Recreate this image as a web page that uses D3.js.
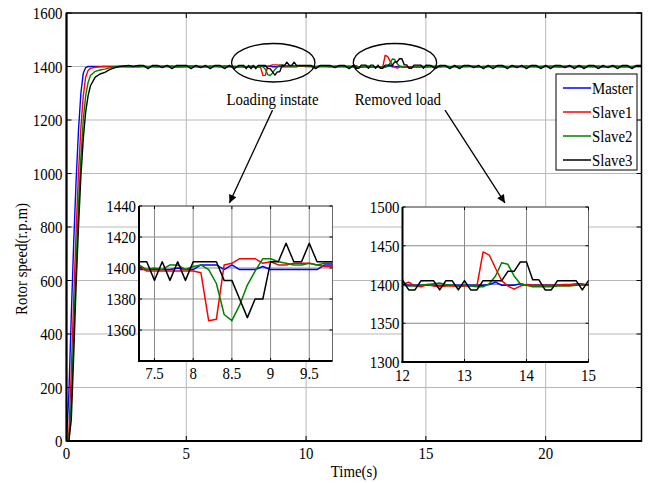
<!DOCTYPE html>
<html><head><meta charset="utf-8">
<script src="https://cdn.jsdelivr.net/npm/d3@7"></script>
<style>
body{margin:0;background:#fff}
svg{display:block}
text{font-family:"Liberation Serif","Times New Roman",serif;fill:#000}
</style>
</head><body>
<svg id="chart" width="649" height="483"></svg>
<script>
// ---------------- DATA ----------------
const seriesNames = ["Master", "Slave1", "Slave2", "Slave3"];
const seriesColors = ["#0000ff", "#ff0000", "#008000", "#000000"];

// main axis ticks
const mainXTicks = [0, 5, 10, 15, 20];
const mainYTicks = [0, 200, 400, 600, 800, 1000, 1200, 1400, 1600];
// inset ticks
const inset1XTicks = [7.5, 8, 8.5, 9, 9.5];
const inset1YTicks = [1360, 1380, 1400, 1420, 1440];
const inset2XTicks = [12, 13, 14, 15];
const inset2YTicks = [1300, 1350, 1400, 1450, 1500];

// start-up (sample times)
const tStart = [0, 0.1, 0.2, 0.3, 0.4, 0.5, 0.6, 0.7, 0.8, 0.9, 1.0, 1.2, 1.4, 1.6, 1.8, 2.0, 2.2, 2.4];
const masterStart = [0, 180, 470, 740, 970, 1160, 1300, 1375, 1396, 1400, 1400, 1400, 1400, 1400, 1400, 1400, 1400, 1400];
const slave1Start = [0, 30, 260, 530, 780, 1000, 1170, 1290, 1360, 1385, 1393, 1397, 1399, 1400, 1400, 1400, 1400, 1400];
const slave2Start = [0, 0, 150, 410, 660, 880, 1060, 1200, 1290, 1340, 1366, 1382, 1387, 1390, 1395, 1399, 1400, 1400];
const slave3Start = [0, 0, 80, 320, 580, 800, 990, 1130, 1230, 1290, 1328, 1360, 1372, 1378, 1388, 1395, 1400, 1402];

// steady segment A: 2.6 .. 7.2 s, every 0.2 s
const segAStart = 2.6, segAStep = 0.2;
const masterA = [1400,1400,1401,1400,1399,1400,1400,1401,1400,1400,1399,1400,1400,1400,1401,1400,1400,1399,1400,1400,1401,1400,1400,1399];
const slave1A = [1399,1400,1398,1401,1400,1399,1398,1400,1401,1399,1398,1400,1399,1401,1400,1398,1399,1400,1401,1399,1398,1400,1399,1398];
const slave2A = [1401,1400,1402,1401,1399,1401,1402,1400,1401,1402,1400,1399,1401,1402,1400,1401,1399,1402,1401,1400,1402,1401,1400,1401];
const slave3A = [1404,1400,1404,1404,1392,1404,1404,1396,1404,1392,1404,1404,1404,1392,1404,1396,1404,1392,1404,1404,1392,1404,1392,1404];

// loading instant: 7.3 .. 9.8 s, every 0.1 s
const segLStart = 7.3, segLStep = 0.1;
const masterL = [1399,1399,1399,1399,1399,1400,1399,1399,1402,1402,1402,1399,1402,1399,1399,1399,1401,1399,1399,1399,1399,1399,1399,1399,1402,1402];
const slave1L = [1401,1398,1398,1398,1398,1398,1398,1398,1397,1366,1367,1402,1403,1406,1406,1406,1403,1404,1402,1402,1403,1403,1403,1402,1401,1401];
const slave2L = [1402,1399,1400,1399,1402,1402,1399,1401,1402,1399,1390,1370,1366,1376,1389,1398,1406,1406,1404,1403,1402,1402,1403,1402,1403,1403];
const slave3L = [1404,1404,1392,1404,1392,1404,1392,1404,1404,1404,1404,1392,1392,1380,1368,1380,1380,1404,1404,1416,1404,1404,1416,1404,1404,1404];

// steady segment B: 10.0 .. 11.8 s, every 0.2 s
const segBStart = 10.0, segBStep = 0.2;
const masterB = [1400,1400,1399,1400,1401,1400,1400,1399,1400,1400];
const slave1B = [1401,1400,1399,1401,1400,1399,1400,1401,1399,1400];
const slave2B = [1402,1401,1400,1402,1401,1400,1401,1402,1400,1401];
const slave3B = [1404,1404,1392,1404,1404,1404,1396,1404,1404,1392];

// load removed: 12.0 .. 15.0 s, every 0.1 s
const segRStart = 12.0, segRStep = 0.1;
const masterR = [1399,1399,1399,1399,1399,1399,1398,1399,1399,1399,1399,1399,1399,1399,1400,1403,1399,1399,1399,1401,1399,1399,1399,1399,1399,1399,1399,1399,1399,1399,1399];
const slave1R = [1400,1403,1398,1397,1400,1398,1397,1398,1398,1397,1398,1398,1398,1442,1438,1421,1405,1398,1394,1398,1400,1399,1399,1399,1399,1399,1400,1400,1401,1401,1399];
const slave2R = [1399,1398,1398,1399,1400,1401,1402,1400,1399,1398,1399,1398,1397,1397,1401,1411,1428,1426,1411,1401,1399,1397,1397,1397,1397,1398,1398,1398,1399,1399,1399];
const slave3R = [1406,1393,1393,1405,1405,1405,1393,1405,1405,1393,1405,1393,1393,1405,1405,1405,1405,1417,1417,1429,1429,1406,1406,1393,1393,1405,1405,1405,1405,1393,1405];

// steady segment C: 15.2 .. 24.0 s, every 0.2 s
const segCStart = 15.2, segCStep = 0.2;
const masterC = [1400,1400,1401,1400,1399,1400,1400,1401,1400,1400,1399,1400,1400,1400,1401,1400,1400,1399,1400,1400,1401,1400,1400,1399,1400,1400,1401,1400,1399,1400,1400,1401,1400,1400,1399,1400,1400,1400,1401,1400,1400,1399,1400,1400,1400];
const slave1C = [1399,1400,1398,1401,1400,1399,1398,1400,1401,1399,1398,1400,1399,1401,1400,1398,1399,1400,1401,1399,1398,1400,1399,1398,1400,1401,1399,1398,1400,1401,1399,1400,1398,1401,1400,1399,1398,1400,1401,1399,1398,1400,1399,1401,1400];
const slave2C = [1401,1400,1402,1401,1399,1401,1402,1400,1401,1402,1400,1399,1401,1402,1400,1401,1399,1402,1401,1400,1402,1401,1400,1401,1402,1400,1401,1399,1402,1401,1400,1402,1401,1400,1401,1402,1400,1399,1401,1402,1400,1401,1399,1402,1401];
const slave3C = [1404,1392,1404,1404,1392,1404,1392,1404,1404,1396,1404,1392,1404,1392,1404,1404,1392,1404,1396,1404,1392,1404,1404,1392,1404,1392,1404,1404,1396,1404,1392,1404,1392,1404,1404,1392,1404,1396,1404,1392,1404,1404,1392,1404,1404];

// annotations (data coordinates of main axes)
const notes = [
  {label: "Loading instate", t: 8.6, v: 1256, ellT: 8.63, ellV: 1414, from: [8.6, 1237], to: [6.8, 890]},
  {label: "Removed load",   t: 13.83, v: 1256, ellT: 13.71, ellV: 1414, from: [15.8, 1237], to: [18.3, 890]}
];

// ---------------- BUILD ----------------
function seg(start, step, vals) { return vals.map((v, i) => ({t: +(start + i * step).toFixed(3), v})); }
function startSeg(vals) { return vals.map((v, i) => ({t: tStart[i], v})); }
const raw = [
  [masterStart, masterA, masterL, masterB, masterR, masterC],
  [slave1Start, slave1A, slave1L, slave1B, slave1R, slave1C],
  [slave2Start, slave2A, slave2L, slave2B, slave2R, slave2C],
  [slave3Start, slave3A, slave3L, slave3B, slave3R, slave3C]
];
const series = raw.map((r, k) => ({
  name: seriesNames[k], color: seriesColors[k],
  data: [].concat(startSeg(r[0]), seg(segAStart, segAStep, r[1]), seg(segLStart, segLStep, r[2]),
                  seg(segBStart, segBStep, r[3]), seg(segRStart, segRStep, r[4]), seg(segCStart, segCStep, r[5]))
}));

const svg = d3.select("#chart");
const m = {left: 66.5, right: 641.5, top: 13, bottom: 441};
const x = d3.scaleLinear().domain([0, 24]).range([m.left, m.right]);
const y = d3.scaleLinear().domain([0, 1600]).range([m.bottom, m.top]);
const FS = 17.5, SX = 0.85;

// condensed serif text, like the reference
function T(parent, px, py, str, anchor, rot) {
  return parent.append("text")
    .attr("transform", "translate(" + px + "," + py + ")" + (rot ? " rotate(" + rot + ")" : "") + " scale(" + SX + ",1)")
    .attr("text-anchor", anchor || "start").attr("font-size", FS).text(str);
}

const defs = svg.append("defs");
defs.append("marker").attr("id", "arr").attr("viewBox", "0 0 10 10").attr("refX", 10).attr("refY", 5)
  .attr("markerWidth", 11).attr("markerHeight", 8).attr("markerUnits", "userSpaceOnUse").attr("orient", "auto")
  .append("path").attr("d", "M0,0L10,5L0,10z").attr("fill", "#000");

defs.append("clipPath").attr("id", "clipMain").append("rect")
  .attr("x", m.left).attr("y", m.top).attr("width", m.right - m.left).attr("height", m.bottom - m.top);

// grid
const g = svg.append("g");
g.selectAll(".gx").data(mainXTicks.filter(d => d > 0)).join("line")
  .attr("x1", d => x(d)).attr("x2", d => x(d)).attr("y1", m.top).attr("y2", m.bottom)
  .attr("stroke", "#b8b8b8").attr("stroke-width", 1);
g.selectAll(".gy").data(mainYTicks.filter(d => d > 0 && d < 1600)).join("line")
  .attr("y1", d => y(d)).attr("y2", d => y(d)).attr("x1", m.left).attr("x2", m.right)
  .attr("stroke", "#b8b8b8").attr("stroke-width", 1);

// lines
const line = d3.line().x(d => x(d.t)).y(d => y(d.v));
const lg = svg.append("g").attr("clip-path", "url(#clipMain)");
series.forEach(s => {
  lg.append("path").attr("d", line(s.data)).attr("fill", "none")
    .attr("stroke", s.color).attr("stroke-width", 1.4).attr("stroke-linejoin", "round");
});

// frame + ticks
svg.append("rect").attr("x", m.left).attr("y", m.top).attr("width", m.right - m.left).attr("height", m.bottom - m.top)
  .attr("fill", "none").attr("stroke", "#000").attr("stroke-width", 1.5);
svg.append("line").attr("x1", m.left).attr("x2", m.left).attr("y1", m.top).attr("y2", m.bottom).attr("stroke", "#000").attr("stroke-width", 2);
svg.append("line").attr("x1", m.left).attr("x2", m.right).attr("y1", m.bottom).attr("y2", m.bottom).attr("stroke", "#000").attr("stroke-width", 2);
const tk = svg.append("g").attr("stroke", "#000").attr("stroke-width", 1);
mainXTicks.forEach(d => {
  tk.append("line").attr("x1", x(d)).attr("x2", x(d)).attr("y1", m.bottom).attr("y2", m.bottom - 5);
  tk.append("line").attr("x1", x(d)).attr("x2", x(d)).attr("y1", m.top).attr("y2", m.top + 5);
});
mainYTicks.forEach(d => {
  tk.append("line").attr("x1", m.left).attr("x2", m.left + 5).attr("y1", y(d)).attr("y2", y(d));
  tk.append("line").attr("x1", m.right).attr("x2", m.right - 5).attr("y1", y(d)).attr("y2", y(d));
});
const labels = svg.append("g");
mainXTicks.forEach(d => T(labels, x(d), 459, d, "middle"));
mainYTicks.forEach(d => T(labels, m.left - 4, y(d) + 6, d, "end"));
T(labels, (m.left + m.right) / 2, 477, "Time(s)", "middle");
T(labels, 27, 259, "Rotor speed(r.p.m)", "middle", -90);

// annotations
notes.forEach(n => {
  svg.append("ellipse").attr("cx", x(n.ellT)).attr("cy", y(n.ellV))
    .attr("rx", x(n.ellT + 1.74) - x(n.ellT)).attr("ry", y(n.ellV) - y(n.ellV + 72))
    .attr("fill", "none").attr("stroke", "#000").attr("stroke-width", 1.3);
  T(svg, x(n.t), y(n.v), n.label, "middle");
  svg.append("line").attr("x1", x(n.from[0])).attr("y1", y(n.from[1])).attr("x2", x(n.to[0])).attr("y2", y(n.to[1]))
    .attr("stroke", "#000").attr("stroke-width", 1.3).attr("marker-end", "url(#arr)");
});

// insets
function inset(id, box, xd, yd, xt, yt, xlabY) {
  const ix = d3.scaleLinear().domain(xd).range([box.l, box.r]);
  const iy = d3.scaleLinear().domain(yd).range([box.b, box.t]);
  const ig = svg.append("g");
  defs.append("clipPath").attr("id", id).append("rect")
    .attr("x", box.l).attr("y", box.t).attr("width", box.r - box.l).attr("height", box.b - box.t);
  ig.append("rect").attr("x", box.l).attr("y", box.t).attr("width", box.r - box.l).attr("height", box.b - box.t).attr("fill", "#fff");
  ig.selectAll(".gx").data(xt).join("line").attr("x1", d => ix(d)).attr("x2", d => ix(d))
    .attr("y1", box.t).attr("y2", box.b).attr("stroke", "#8a8a8a").attr("stroke-width", 1);
  ig.selectAll(".gy").data(yt).join("line").attr("y1", d => iy(d)).attr("y2", d => iy(d))
    .attr("x1", box.l).attr("x2", box.r).attr("stroke", "#8a8a8a").attr("stroke-width", 1);
  ig.append("line").attr("x1", box.l).attr("x2", box.r).attr("y1", box.t).attr("y2", box.t).attr("stroke", "#666").attr("stroke-width", 1);
  ig.append("line").attr("x1", box.r).attr("x2", box.r).attr("y1", box.t).attr("y2", box.b).attr("stroke", "#666").attr("stroke-width", 1);
  const il = d3.line().x(d => ix(d.t)).y(d => iy(d.v));
  const cg = ig.append("g").attr("clip-path", "url(#" + id + ")");
  series.forEach(s => {
    cg.append("path").attr("d", il(s.data.filter(d => d.t >= xd[0] - 0.2 && d.t <= xd[1] + 0.2)))
      .attr("fill", "none").attr("stroke", s.color).attr("stroke-width", 1.5).attr("stroke-linejoin", "round");
  });
  ig.append("line").attr("x1", box.l).attr("x2", box.l).attr("y1", box.t).attr("y2", box.b + 1).attr("stroke", "#000").attr("stroke-width", 2);
  ig.append("line").attr("x1", box.l - 1).attr("x2", box.r).attr("y1", box.b).attr("y2", box.b).attr("stroke", "#000").attr("stroke-width", 2);
  xt.forEach(d => {
    ig.append("line").attr("x1", ix(d)).attr("x2", ix(d)).attr("y1", box.b).attr("y2", box.b - 3).attr("stroke", "#000");
    ig.append("line").attr("x1", ix(d)).attr("x2", ix(d)).attr("y1", box.t).attr("y2", box.t + 3).attr("stroke", "#000");
  });
  yt.forEach(d => {
    ig.append("line").attr("x1", box.l).attr("x2", box.l + 3).attr("y1", iy(d)).attr("y2", iy(d)).attr("stroke", "#000");
    ig.append("line").attr("x1", box.r).attr("x2", box.r - 3).attr("y1", iy(d)).attr("y2", iy(d)).attr("stroke", "#000");
  });
  xt.forEach(d => T(ig, ix(d), xlabY, d, "middle"));
  yt.forEach(d => T(ig, box.l - 3, iy(d) + 6, d, "end"));
}
inset("clipI1", {l: 139, r: 332.5, t: 206, b: 361}, [7.3, 9.8], [1340, 1440], inset1XTicks, inset1YTicks, 379);
inset("clipI2", {l: 402.5, r: 588.5, t: 207, b: 362}, [12, 15], [1300, 1500], inset2XTicks, inset2YTicks, 381);

// legend
const leg = svg.append("g");
leg.append("rect").attr("x", 556).attr("y", 74).attr("width", 81).attr("height", 96)
  .attr("fill", "#fff").attr("stroke", "#000").attr("stroke-width", 1);
series.forEach((s, i) => {
  const ly = 88 + i * 24;
  leg.append("line").attr("x1", 563).attr("x2", 591).attr("y1", ly).attr("y2", ly).attr("stroke", s.color).attr("stroke-width", 1.5);
  T(leg, 592, ly + 6, s.name, "start");
});
</script>
</body></html>
